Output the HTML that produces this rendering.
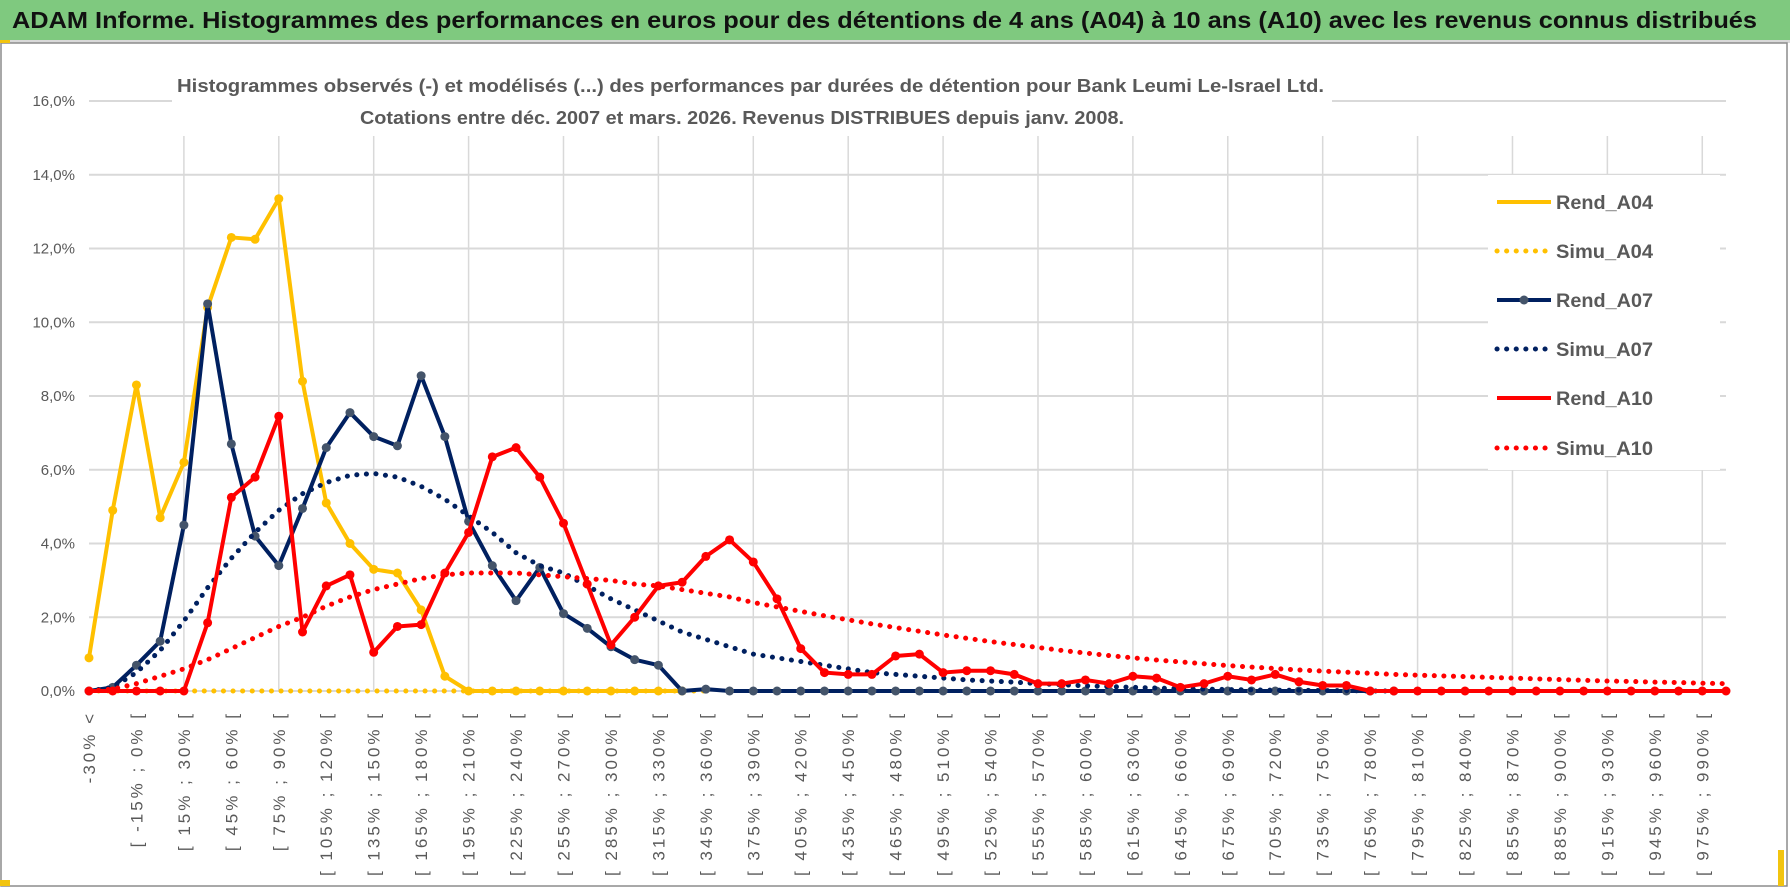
<!DOCTYPE html>
<html><head><meta charset="utf-8"><style>
html,body{margin:0;padding:0;background:#fff;}
svg{display:block;font-family:"Liberation Sans",sans-serif;}
</style></head><body>
<svg id="chart" width="1790" height="888" viewBox="0 0 1790 888" xmlns="http://www.w3.org/2000/svg">
<rect x="0" y="0" width="1790" height="40" fill="#7fc97f"/>
<text x="12" y="28" font-size="23" font-weight="bold" fill="#111" textLength="1745" lengthAdjust="spacingAndGlyphs">ADAM Informe. Histogrammes des performances en euros pour des détentions de 4 ans (A04) à 10 ans (A10) avec les revenus connus distribués</text>
<rect x="0" y="40" width="1790" height="3" fill="#d9d9d9"/>
<rect x="1" y="43" width="1786" height="843" fill="none" stroke="#8c8c8c" stroke-width="1.5"/>
<rect x="0" y="40" width="10" height="3" fill="#f2c40f"/>
<rect x="0" y="880" width="10" height="6" fill="#f2c40f"/>
<rect x="1778" y="850" width="6" height="36" fill="#f2c40f"/>
<g id="grid"></g>
<rect x="172" y="64" width="1160" height="70" fill="#fff"/>
<text x="177" y="92" font-size="18" font-weight="bold" fill="#595959" textLength="1147" lengthAdjust="spacingAndGlyphs">Histogrammes observés (-) et modélisés (...) des performances par durées de détention pour Bank Leumi Le-Israel Ltd.</text>
<text x="360" y="124" font-size="18" font-weight="bold" fill="#595959" textLength="764" lengthAdjust="spacingAndGlyphs">Cotations entre déc. 2007 et mars. 2026. Revenus DISTRIBUES depuis janv. 2008.</text>
<g id="yaxis"></g>
<g id="xaxis"></g>
<g id="series"></g>
<g id="legend"></g>
</svg>
<script>
const categories = ["-30% <"];
for (let a = -30; a < 990; a += 15) categories.push("[ " + a + "% ; " + (a + 15) + "% [");
categories.push("> 990%");
const yTicks = [0, 2, 4, 6, 8, 10, 12, 14, 16];
const yTickLabels = ["0,0%", "2,0%", "4,0%", "6,0%", "8,0%", "10,0%", "12,0%", "14,0%", "16,0%"];
const rendA04 = [0.9,4.9,8.3,4.7,6.2,10.4,12.3,12.25,13.35,8.4,5.1,4.0,3.3,3.2,2.2,0.4,0,0,0,0,0,0,0,0,0,0];
const simuA04 = [0,0,0,0,0,0,0,0,0,0,0,0,0,0,0,0,0,0,0,0,0,0,0,0,0,0,0];
const rendA07 = [0,0.1,0.7,1.35,4.5,10.5,6.7,4.2,3.4,4.95,6.6,7.55,6.9,6.65,8.55,6.9,4.6,3.4,2.45,3.35,2.1,1.7,1.2,0.85,0.7,0,0.05,0,0,0,0,0,0,0,0,0,0,0,0,0,0,0,0,0,0,0,0,0,0,0,0,0,0,0,0,0];
const simuA07 = [0,0.1,0.5,1.1,1.9,2.8,3.6,4.3,4.9,5.35,5.65,5.85,5.9,5.8,5.55,5.2,4.75,4.3,3.75,3.4,3.2,2.85,2.5,2.2,1.9,1.6,1.4,1.2,1.0,0.9,0.8,0.7,0.6,0.5,0.45,0.4,0.35,0.3,0.27,0.24,0.2,0.17,0.14,0.12,0.1,0.08,0.06,0.05,0.04,0.03,0.02,0.02,0.01,0.01,0,0];
const rendA10 = [0,0,0,0,0,1.85,5.25,5.8,7.45,1.6,2.85,3.15,1.05,1.75,1.8,3.2,4.3,6.35,6.6,5.8,4.55,2.9,1.25,2.0,2.85,2.95,3.65,4.1,3.5,2.5,1.15,0.5,0.45,0.45,0.95,1.0,0.5,0.55,0.55,0.45,0.2,0.2,0.3,0.2,0.4,0.35,0.1,0.2,0.4,0.3,0.45,0.25,0.15,0.15,0,0,0,0,0,0,0,0,0,0,0,0,0,0,0,0];
const simuA10 = [0,0.05,0.2,0.4,0.6,0.85,1.15,1.45,1.75,2.0,2.3,2.55,2.75,2.9,3.05,3.15,3.2,3.2,3.2,3.15,3.1,3.05,3.0,2.9,2.85,2.75,2.65,2.55,2.4,2.28,2.16,2.04,1.93,1.82,1.72,1.62,1.52,1.43,1.34,1.26,1.18,1.1,1.03,0.96,0.9,0.84,0.79,0.74,0.69,0.65,0.61,0.57,0.54,0.51,0.48,0.45,0.43,0.41,0.39,0.37,0.35,0.33,0.31,0.29,0.27,0.26,0.24,0.23,0.21,0.2];

const NS = "http://www.w3.org/2000/svg";
const X0 = 89, X1 = 1726, Y0 = 691, Y16 = 101;
const step = (X1 - X0) / (categories.length - 1);
function xs(i) { return X0 + i * step; }
function ys(v) { return Y0 - (v / 16) * (Y0 - Y16); }
function mk(tag, attrs, parent) { const e = document.createElementNS(NS, tag); for (const k in attrs) e.setAttribute(k, attrs[k]); parent.appendChild(e); return e; }

const grid = document.getElementById("grid");
yTicks.forEach(function (t) {
  const l = mk("line", {x1: X0, x2: X1, y1: ys(t), y2: ys(t), stroke: "#d9d9d9", "stroke-width": 2}, grid);
  
  
});
for (let i = 4; i < categories.length; i += 4) {
  const l = mk("line", {x1: xs(i), x2: xs(i), y1: 136, y2: Y0, stroke: "#d9d9d9", "stroke-width": 1.5}, grid);
  
  
}
const yaxis = document.getElementById("yaxis");
yTicks.forEach(function (t, k) {
  const tx = mk("text", {x: 75, y: ys(t) + 5, "text-anchor": "end", "font-size": 15, fill: "#595959"}, yaxis);
  tx.textContent = yTickLabels[k];
  
  
});
const xaxis = document.getElementById("xaxis");
categories.forEach(function (c, i) {
  if (i % 2 !== 0) return;
  const x = xs(i) + 6, y = 711;
  const tx = mk("text", {x: x, y: y, "text-anchor": "end", "font-size": 17, fill: "#595959", "letter-spacing": "3", transform: "rotate(-90 " + x + " " + y + ")"}, xaxis);
  tx.textContent = c;
  
  
});

const series = document.getElementById("series");
function drawSolid(vals, color, mcolor, name) {
  const pts = vals.map(function (v, i) { return xs(i) + "," + ys(v); }).join(" ");
  const pl = mk("polyline", {points: pts, fill: "none", stroke: color, "stroke-width": 4, "stroke-linejoin": "round"}, series);
  
  
  vals.forEach(function (v, i) {
    const c = mk("circle", {cx: xs(i), cy: ys(v), r: 4.5, fill: mcolor}, series);
    
    
  });
}
function drawDotted(vals, color, name) {
  const pts = vals.map(function (v, i) { return xs(i) + "," + ys(v); }).join(" ");
  const pl = mk("polyline", {points: pts, fill: "none", stroke: color, "stroke-width": 5, "stroke-linecap": "round", "stroke-dasharray": "0.1 9.5"}, series);
  
  
}
drawSolid(rendA04, "#ffc000", "#ffc000", "rend-a04");
drawDotted(simuA04, "#ffc000", "simu-a04");
drawSolid(rendA07, "#002060", "#44546a", "rend-a07");
drawDotted(simuA07, "#002060", "simu-a07");
drawSolid(rendA10, "#ff0000", "#ff0000", "rend-a10");
drawDotted(simuA10, "#ff0000", "simu-a10");

const legend = document.getElementById("legend");
const lbg = mk("rect", {x: 1488, y: 175, width: 232, height: 295, fill: "#fff"}, legend);


const legendNames = ["Rend_A04", "Simu_A04", "Rend_A07", "Simu_A07", "Rend_A10", "Simu_A10"];
const legendColors = ["#ffc000", "#ffc000", "#002060", "#002060", "#ff0000", "#ff0000"];
const legendY = [202, 251, 300, 349, 398, 448];
legendNames.forEach(function (n, k) {
  const y = legendY[k];
  const l = mk("line", {x1: 1497, x2: 1551, y1: y, y2: y, stroke: legendColors[k], "stroke-width": k % 2 ? 5 : 4, "stroke-linecap": k % 2 ? "round" : "butt"}, legend);
  if (k % 2) l.setAttribute("stroke-dasharray", "0.1 9.5");
  
  
  if (k === 2) {
    const c = mk("circle", {cx: 1524, cy: y, r: 4.5, fill: "#44546a"}, legend);
    
    
  }
  const t = mk("text", {x: 1556, y: y + 7, "font-size": 19, "font-weight": "bold", fill: "#595959", textLength: 97, lengthAdjust: "spacingAndGlyphs"}, legend);
  t.textContent = n;
  
  
});
</script>
</body></html>
